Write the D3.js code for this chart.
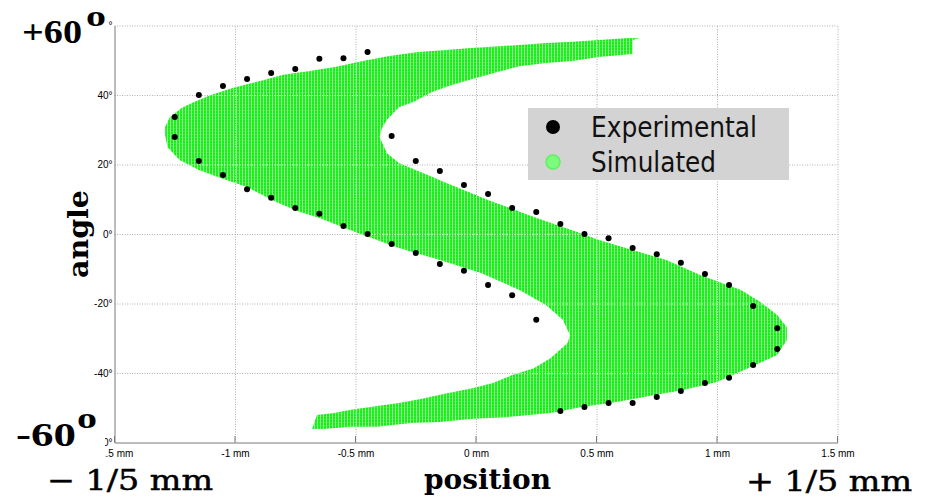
<!DOCTYPE html>
<html>
<head>
<meta charset="utf-8">
<script src="https://cdn.jsdelivr.net/npm/d3@7"></script>
<style>
  body { margin: 0; background: #fff; }
</style>
</head>
<body>
<div id="chart"></div>
<script>
var width = 928;
var height = 498;

// tick values
var xTicks = [-1.5, -1, -0.5, 0, 0.5, 1, 1.5];
var yTicks = [-60, -40, -20, 0, 20, 40, 60];

// experimental points: position (mm) with its two measured angles (deg)
var expPos = [-1.25, -1.15, -1.05, -0.95, -0.85, -0.75, -0.65, -0.55, -0.45, -0.35, -0.25, -0.15, -0.05,
              0.05, 0.15, 0.25, 0.35, 0.45, 0.55, 0.65, 0.75, 0.85, 0.95, 1.05, 1.15, 1.25];
var expAngleA = [33.7, 40.0, 42.6, 44.6, 46.3, 47.5, 50.4, 50.6, 52.4, 28.2, 21.0, 18.1, 14.1,
                 11.5, 7.5, 6.3, 2.9, 0.0, -1.2, -4.0, -5.8, -8.3, -11.5, -14.7, -20.7, -27.1];
var expAngleB = [27.9, 21.0, 17.0, 12.9, 10.4, 7.5, 5.8, 2.3, 0.0, -2.9, -5.5, -8.6, -10.6,
                 -14.7, -17.6, -24.7, -50.9, -49.8, -48.6, -48.6, -46.9, -45.2, -42.9, -41.4, -37.7, -33.1];

// simulated region outline: position (mm) and angle (deg)
var simPos = [0.68, 0.63, 0.51, 0.40, 0.29, 0.18, -0.02, -0.14, -0.24, -0.36, -0.47, -0.58, -0.69, -0.80,
              -0.88, -1.01, -1.10, -1.17, -1.22, -1.27, -1.29, -1.29, -1.28, -1.23, -1.15, -1.06, -0.95,
              -0.82, -0.73, -0.65, -0.49, -0.32, -0.15, 0.02, 0.18, 0.29, 0.36, 0.39, 0.38, 0.31, 0.24,
              0.15, 0.07, -0.01, -0.12, -0.23, -0.32, -0.41, -0.52, -0.59, -0.66, -0.68, -0.63, -0.52,
              -0.41, -0.27, -0.15, -0.01, 0.13, 0.31, 0.44, 0.59, 0.72, 0.86, 1.00, 1.14, 1.25, 1.29,
              1.29, 1.25, 1.18, 1.10, 0.93, 0.79, 0.65, 0.51, 0.42, 0.24, 0.05, -0.15, -0.18, -0.32,
              -0.37, -0.40, -0.39, -0.37, -0.32, -0.26, -0.18, -0.10, 0.00, 0.09, 0.18, 0.29, 0.40,
              0.51, 0.65, 0.65];
var simAngle = [56.4, 56.4, 55.8, 55.3, 55.0, 54.4, 53.5, 52.9, 52.4, 51.2, 49.8, 48.1, 46.9, 45.8,
                44.3, 42.0, 40.0, 38.0, 36.3, 33.7, 30.8, 28.5, 25.0, 21.3, 18.4, 16.1, 13.5,
                8.9, 6.3, 4.6, 0.3, -4.0, -7.5, -11.2, -16.1, -20.4, -24.7, -29.1, -31.4, -35.7, -38.6,
                -40.6, -42.9, -44.3, -45.8, -47.5, -48.6, -49.5, -50.6, -51.5, -52.1, -56.1, -56.1, -55.5,
                -55.5, -54.4, -54.1, -53.2, -52.7, -51.5, -49.8, -48.3, -46.6, -44.9, -42.6, -38.3, -34.8, -30.5,
                -26.8, -23.3, -19.6, -16.1, -11.8, -7.5, -4.6, -1.7, 0.6, 4.9, 9.8, 15.5, 16.4, 20.4,
                23.3, 27.9, 30.5, 32.8, 36.5, 38.0, 40.9, 42.9, 44.9, 46.6, 48.3, 49.2, 49.8,
                50.9, 51.8, 55.8];

var legendLabels = ["Experimental", "Simulated"];

var svg = d3.select("#chart")
  .append("svg")
  .attr("width", width)
  .attr("height", height);

var x = d3.scaleLinear().domain([-1.5, 1.5]).range([114.5, 837.5]);
var y = d3.scaleLinear().domain([-60, 60]).range([442.5, 25.5]);

var outline = simPos.map(function(p, i) { return [x(p), y(simAngle[i])]; });
var outlinePath = d3.line()(outline) + "Z";

var defs = svg.append("defs");
// striped fill for the simulated band
var pat = defs.append("pattern")
  .attr("id", "stripes")
  .attr("patternUnits", "userSpaceOnUse")
  .attr("width", 3)
  .attr("height", 3);
pat.append("rect").attr("width", 3).attr("height", 3).style("fill", "#14f014");
pat.append("rect").attr("x", 2).attr("width", 1).attr("height", 3).style("fill", "#9af59a");
pat.append("rect").attr("y", 2).attr("width", 3).attr("height", 0.6).style("fill", "#6ef26e").style("opacity", 0.6);

defs.append("clipPath").attr("id", "bandClip")
  .append("path").attr("d", outlinePath);

function drawGrid(parent, color) {
  parent.append("g")
    .attr("transform", "translate(0,442.5)")
    .call(d3.axisBottom(x).tickValues(xTicks.slice(1)).tickSize(-417).tickFormat(""))
    .call(function(g) { g.select(".domain").remove(); })
    .selectAll("line")
    .style("stroke", color)
    .style("stroke-dasharray", "1,1.5");
  parent.append("g")
    .attr("transform", "translate(114.5,0)")
    .call(d3.axisLeft(y).tickValues(yTicks.slice(1)).tickSize(-723).tickFormat(""))
    .call(function(g) { g.select(".domain").remove(); })
    .selectAll("line")
    .style("stroke", color)
    .style("stroke-dasharray", "1,1.5");
}

// grid
drawGrid(svg, "#b0b0b0");

// simulated band
svg.append("path")
  .attr("d", outlinePath)
  .style("fill", "url(#stripes)")
  .style("stroke", "none");

// grid showing faintly through the band
drawGrid(svg.append("g").attr("clip-path", "url(#bandClip)"), "#d2f7d2");

// axes
var xAxis = svg.append("g")
  .attr("transform", "translate(0,442.5)")
  .call(d3.axisBottom(x).tickValues(xTicks).tickSize(0).tickPadding(7)
    .tickFormat(function(d) { return d + " mm"; }));
xAxis.select(".domain").style("stroke", "#7a7a7a");
xAxis.selectAll("text").style("font-family", "Liberation Sans, Arial, sans-serif").style("font-size", "10px").style("fill", "#000");

svg.append("g")
  .selectAll("line")
  .data(xTicks)
  .enter()
  .append("line")
  .attr("x1", function(d) { return x(d); })
  .attr("x2", function(d) { return x(d); })
  .attr("y1", 442.5)
  .attr("y2", 436)
  .style("stroke", "#7a7a7a");

// the top label is cut down to its degree sign by the big "+60" note
var yAxis = svg.append("g")
  .attr("transform", "translate(114.5,0)")
  .call(d3.axisLeft(y).tickValues(yTicks).tickSize(0).tickPadding(2)
    .tickFormat(function(d) { return d == 60 ? "\u00b0" : d + "\u00b0"; }));
yAxis.select(".domain").style("stroke", "#7a7a7a");
yAxis.selectAll("text").style("font-family", "Liberation Sans, Arial, sans-serif").style("font-size", "10px").style("fill", "#000");

// experimental dots
var dots = svg.append("g");
[expAngleA, expAngleB].forEach(function(series) {
  dots.selectAll(null)
    .data(expPos)
    .enter()
    .append("circle")
    .attr("cx", function(d) { return x(d); })
    .attr("cy", function(d, i) { return y(series[i]); })
    .attr("r", 3)
    .style("fill", "#000");
});

// legend
var legend = svg.append("g");
legend.append("rect")
  .attr("x", 528)
  .attr("y", 108)
  .attr("width", 261)
  .attr("height", 72)
  .style("fill", "#d3d3d3");
legend.append("circle").attr("cx", 553).attr("cy", 127).attr("r", 7).style("fill", "#000");
legend.append("circle").attr("cx", 553).attr("cy", 162).attr("r", 7)
  .style("fill", "#7dfb7d").style("stroke", "#5ef05e").style("stroke-width", 1.5);
legend.selectAll(".lt")
  .data(legendLabels)
  .enter()
  .append("text")
  .attr("x", 591)
  .attr("y", function(d, i) { return 137 + i * 35; })
  .attr("textLength", function(d, i) { return i == 0 ? 166 : 125; })
  .attr("lengthAdjust", "spacingAndGlyphs")
  .style("font-family", "DejaVu Sans, sans-serif")
  .style("font-size", "29px")
  .style("fill", "#111")
  .text(function(d) { return d; });

// white cover where the picture was cropped
svg.append("rect").attr("x", 0).attr("y", 428).attr("width", 105).attr("height", 40).style("fill", "#fff");

// big annotations
function bigLabel(txt, lx, ly, ox, oy) {
  svg.append("text")
    .attr("x", lx)
    .attr("y", ly)
    .attr("textLength", 60)
    .attr("lengthAdjust", "spacingAndGlyphs")
    .style("font-family", "Liberation Serif, Times New Roman, serif")
    .style("font-weight", "bold")
    .style("font-size", "34px")
    .style("fill", "#000")
    .text(txt);
  svg.append("text")
    .attr("x", ox)
    .attr("y", oy)
    .attr("textLength", 20)
    .attr("lengthAdjust", "spacingAndGlyphs")
    .style("font-family", "Liberation Serif, Times New Roman, serif")
    .style("font-weight", "bold")
    .style("font-size", "30px")
    .style("fill", "#000")
    .text("o");
}
bigLabel("+60", 22, 43, 86, 26);
bigLabel("-60", 16, 446, 77, 428);

var sideStyle = function(t) {
  t.style("font-family", "DejaVu Serif, serif")
    .style("font-size", "28px")
    .style("stroke", "#000")
    .style("stroke-width", 0.5)
    .attr("textLength", 166)
    .attr("lengthAdjust", "spacingAndGlyphs");
};

svg.append("text")
  .attr("x", 47)
  .attr("y", 490)
  .call(sideStyle)
  .text("\u2212 1/5 mm");

svg.append("text")
  .attr("x", 746)
  .attr("y", 491)
  .call(sideStyle)
  .text("+ 1/5 mm");

svg.append("text")
  .attr("x", 424)
  .attr("y", 489)
  .attr("textLength", 127)
  .attr("lengthAdjust", "spacingAndGlyphs")
  .style("font-family", "DejaVu Serif, serif")
  .style("font-weight", "bold")
  .style("font-size", "28px")
  .text("position");

svg.append("text")
  .attr("transform", "translate(88,278) rotate(-90)")
  .attr("textLength", 88)
  .attr("lengthAdjust", "spacingAndGlyphs")
  .style("font-family", "DejaVu Serif, serif")
  .style("font-weight", "bold")
  .style("font-size", "27px")
  .text("angle");
</script>
</body>
</html>
